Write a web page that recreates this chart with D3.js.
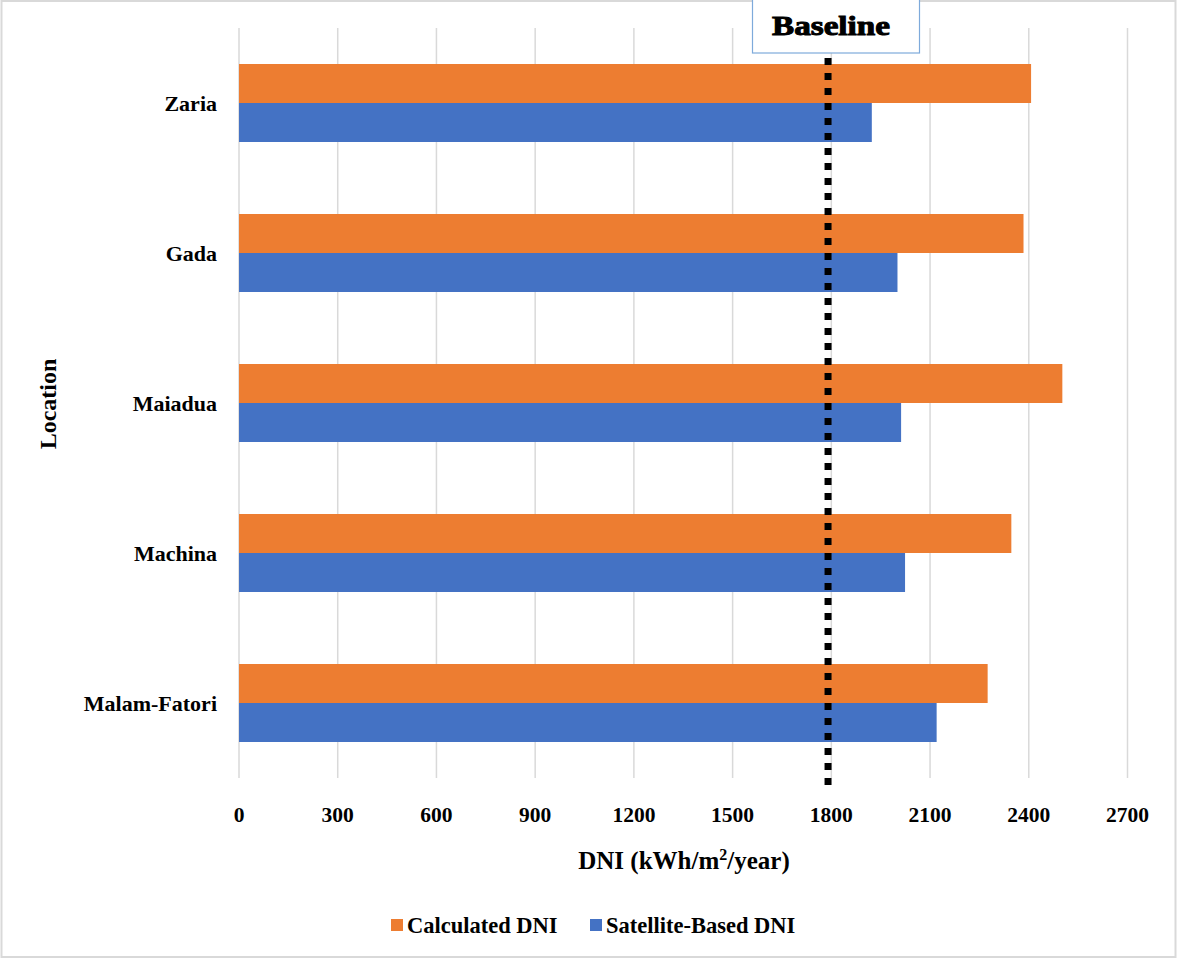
<!DOCTYPE html>
<html>
<head>
<meta charset="utf-8">
<script src="https://cdn.jsdelivr.net/npm/d3@7"></script>
<style>
  html, body { margin: 0; padding: 0; background: #fff; }
  svg { display: block; }
  text { font-family: "Liberation Serif", "Times New Roman", serif; font-weight: bold; fill: #000; }
</style>
</head>
<body>
<svg id="chart" width="1178" height="959"></svg>
<script>
// Locations, top to bottom
const locations = ["Zaria", "Gada", "Maiadua", "Machina", "Malam-Fatori"];
// DNI values in kWh/m²/year
const calculatedDNI = [2407, 2384, 2502, 2347, 2275];
const satelliteDNI  = [1923, 2001, 2012, 2024, 2120];
const seriesNames = ["Calculated DNI", "Satellite-Based DNI"];
const seriesColors = ["#ED7D31", "#4472C4"];
const xTicks = [0, 300, 600, 900, 1200, 1500, 1800, 2100, 2400, 2700];
const baselineValue = 1790;

const svg = d3.select("#chart");
const W = 1178, H = 959;
const plot = { left: 239, right: 1127.5, top: 28, bottom: 778 };

// outer frame
svg.append("rect")
  .attr("x", 1.5).attr("y", 1).attr("width", W - 4).attr("height", H - 3)
  .attr("fill", "#fff").attr("stroke", "#D9D9D9").attr("stroke-width", 2);

const x = d3.scaleLinear().domain([0, 2700]).range([plot.left, plot.right]);
const y = d3.scaleBand().domain(locations).range([plot.top, plot.bottom])
  .paddingInner(0.48).paddingOuter(0.24);
const sub = d3.scaleBand().domain(seriesNames).range([0, y.bandwidth()]);

// vertical gridlines
svg.append("g").selectAll("line").data(xTicks).join("line")
  .attr("x1", d => x(d)).attr("x2", d => x(d))
  .attr("y1", plot.top).attr("y2", plot.bottom)
  .attr("stroke", "#D9D9D9").attr("stroke-width", 1.5);

// bars
const rows = locations.map((loc, i) => ({
  loc, values: [calculatedDNI[i], satelliteDNI[i]]
}));
const groups = svg.append("g").selectAll("g").data(rows).join("g")
  .attr("transform", d => `translate(0,${y(d.loc)})`);
groups.selectAll("rect")
  .data(d => d.values.map((v, j) => ({ v, name: seriesNames[j], color: seriesColors[j] })))
  .join("rect")
  .attr("x", x(0))
  .attr("y", d => sub(d.name))
  .attr("width", d => x(d.v) - x(0))
  .attr("height", sub.bandwidth())
  .attr("fill", d => d.color);

// category labels
svg.append("g").selectAll("text").data(locations).join("text")
  .attr("x", 217)
  .attr("y", d => y(d) + y.bandwidth() / 2)
  .attr("dy", "0.35em")
  .attr("text-anchor", "end")
  .attr("font-size", 22)
  .text(d => d);

// x tick labels
svg.append("g").selectAll("text").data(xTicks).join("text")
  .attr("x", d => x(d))
  .attr("y", 822)
  .attr("text-anchor", "middle")
  .attr("font-size", 21.5)
  .text(d => d);

// axis titles
const xt = svg.append("text")
  .attr("x", 684).attr("y", 869)
  .attr("text-anchor", "middle")
  .attr("font-size", 25);
xt.append("tspan").text("DNI (kWh/m");
xt.append("tspan").attr("font-size", 16).attr("dy", -9).text("2");
xt.append("tspan").attr("dy", 9).text("/year)");

svg.append("text")
  .attr("transform", "translate(56,404) rotate(-90)")
  .attr("text-anchor", "middle")
  .attr("font-size", 24)
  .text("Location");

// baseline marker
svg.append("line")
  .attr("x1", x(baselineValue)).attr("x2", x(baselineValue))
  .attr("y1", 58).attr("y2", 788)
  .attr("stroke", "#000").attr("stroke-width", 7)
  .attr("stroke-dasharray", "7 8");

svg.append("rect")
  .attr("x", 752.5).attr("y", -1).attr("width", 167).attr("height", 54)
  .attr("fill", "#fff").attr("stroke", "#7EAADB").attr("stroke-width", 1.2);
svg.append("text")
  .attr("x", 831).attr("y", 35)
  .attr("text-anchor", "middle")
  .attr("font-size", 28)
  .attr("font-weight", 900)
  .attr("stroke", "#000").attr("stroke-width", 1)
  .attr("textLength", 118).attr("lengthAdjust", "spacingAndGlyphs")
  .text("Baseline");

// legend
const legendItems = [
  { name: seriesNames[0], color: seriesColors[0], x: 391 },
  { name: seriesNames[1], color: seriesColors[1], x: 590 }
];
const lg = svg.append("g").selectAll("g").data(legendItems).join("g")
  .attr("transform", d => `translate(${d.x},919)`);
lg.append("rect").attr("width", 12).attr("height", 12).attr("fill", d => d.color);
lg.append("text").attr("x", 16).attr("y", 14).attr("font-size", 22.5).text(d => d.name);
</script>
</body>
</html>
